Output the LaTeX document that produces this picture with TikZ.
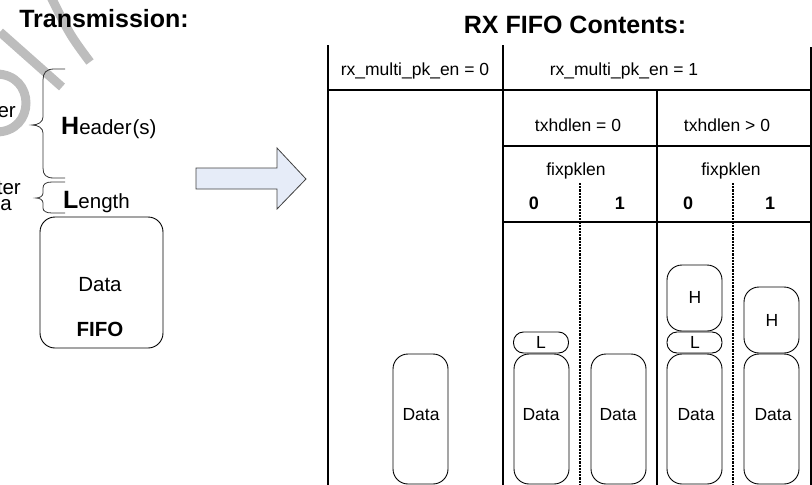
\documentclass[tikz,border=0pt]{standalone}
\usepackage{fontspec}
\setmainfont{Liberation Sans}
\definecolor{arrowfill}{HTML}{E6ECF8}
\definecolor{arrowdraw}{HTML}{404040}
\definecolor{wmgrey}{HTML}{BDBDBD}
\begin{document}
\begin{tikzpicture}[x=1pt,y=-1pt,
  tline/.style={line width=1.3pt, black},
  dline/.style={line width=2.4pt, dash pattern=on 2.2pt off 1pt},
  boxshape/.style={draw, line width=0.9pt, rounded corners=15pt, inner sep=0pt, minimum width=55pt},
  pillshape/.style={draw, line width=0.9pt, rounded corners=10pt, inner sep=0pt, minimum width=55pt, minimum height=21pt},
  wm/.style={line width=9pt, draw=wmgrey},
  lbl/.style={font=\fontsize{17.5}{20}\selectfont, anchor=base, inner sep=0pt},
  blbl/.style={font=\fontsize{18}{20}\selectfont\bfseries, anchor=base, inner sep=0pt},
  llbl/.style={font=\fontsize{20.5}{24}\selectfont, anchor=base, inner sep=0pt},
  ttl/.style={font=\fontsize{25}{30}\selectfont\bfseries, anchor=base, inner sep=0pt},
  brace/.style={line width=0.8pt, black!80}
]
\useasboundingbox (0,0) rectangle (812,485);

% watermark fragments
\draw[wm] (-4,74) .. controls (36,74) and (36,132) .. (-4,132);
\draw[wm] (62,87) -- (0,32);
\draw[wm] (90,62) .. controls (70,35) .. (50,-5);

% titles
\node[ttl] (ttx) at (104,27) {Transmission:};
\node[ttl] (trx) at (575,33) {RX FIFO Contents:};

% left fragments
\node[llbl, anchor=base east] (fer) at (16,117) {er};
\node[llbl, anchor=base east] (fter) at (21,194) {ter};
\node[llbl, anchor=base east] (fa) at (12,210) {a};

% braces
\draw[brace] (65,69) -- (54,69) .. controls (46,69) and (43,73) .. (43,80) -- (43,117)
  .. controls (43,122) and (38,125) .. (32,125) .. controls (38,125) and (43,128) .. (43,133)
  -- (43,168) .. controls (43,175) and (46,178) .. (54,178) -- (65,178);
\draw[brace] (65,182) -- (52,182) .. controls (46,182) and (43,184) .. (43,188) -- (43,193)
  .. controls (43,196) and (40,198) .. (36,198) .. controls (40,198) and (43,200) .. (43,203)
  -- (43,208) .. controls (43,211) and (46,213) .. (52,213) -- (65,213);

\node[llbl, anchor=base west] (hdr) at (61,134) {{\fontsize{25}{28}\selectfont\bfseries H}eader\kern1pt(s)};
\node[llbl, anchor=base west] (len) at (63,208) {{\fontsize{25}{28}\selectfont\bfseries L}ength};

% transmission data box
\node[boxshape, minimum width=123pt, minimum height=131pt] (tbox) at (101.5,282.5) {};
\node[llbl] (tdata) at (100,291) {Data};
\node[llbl, font=\fontsize{20.5}{24}\selectfont\bfseries] (tfifo) at (100,336) {FIFO};

% block arrow
\draw[fill=arrowfill, draw=arrowdraw, line width=0.8pt, line join=miter]
  (196,168) -- (277,168) -- (277,148) -- (306,179) -- (277,209) -- (277,189) -- (196,189) -- cycle;

% table lines
\draw[tline] (328,45) -- (328,490);
\draw[tline] (503,45) -- (503,490);
\draw[tline] (811,47) -- (811,490);
\draw[tline] (328,90) -- (812,90);
\draw[tline] (503,146) -- (812,146);
\draw[tline] (657,90) -- (657,490);
\draw[tline] (503,222) -- (812,222);
\draw[dline] (580,183) -- (580,490);
\draw[dline] (733,183) -- (733,490);

% table labels
\node[lbl] (m0) at (415,75) {rx\_multi\_pk\_en = 0};
\node[lbl] (m1) at (624,75) {rx\_multi\_pk\_en = 1};
\node[lbl] (h0) at (578,131) {txhdlen = 0};
\node[lbl] (h1) at (727,131) {txhdlen > 0};
\node[lbl] (f0) at (576,175) {fixpklen};
\node[lbl] (f1) at (731,175) {fixpklen};
\node[blbl] (c00) at (534,209) {0};
\node[blbl] (c01) at (620,209) {1};
\node[blbl] (c10) at (688,209) {0};
\node[blbl] (c11) at (770,209) {1};

% content boxes
\node[boxshape, minimum height=130pt] (d0) at (420.5,419) {};
\node[lbl] (d0t) at (421,420) {Data};

\node[pillshape] (l1) at (541,342.5) {};
\node[lbl] (l1t) at (541,348) {L};
\node[boxshape, minimum height=130pt] (d1) at (541.5,419) {};
\node[lbl] (d1t) at (541,420) {Data};

\node[boxshape, minimum height=130pt] (d2) at (618.5,419) {};
\node[lbl] (d2t) at (618,420) {Data};

\node[boxshape, minimum height=66pt] (hb3) at (694.5,298) {};
\node[lbl] (hb3t) at (695,303) {H};
\node[pillshape] (l3) at (694.5,342.5) {};
\node[lbl] (l3t) at (695,348) {L};
\node[boxshape, minimum height=130pt] (d3) at (694.5,419) {};
\node[lbl] (d3t) at (696,420) {Data};

\node[boxshape, minimum height=66pt] (hb4) at (771.5,320) {};
\node[lbl] (hb4t) at (772,326) {H};
\node[boxshape, minimum height=130pt] (d4) at (771.5,419) {};
\node[lbl] (d4t) at (773,420) {Data};
\end{tikzpicture}
\end{document}
